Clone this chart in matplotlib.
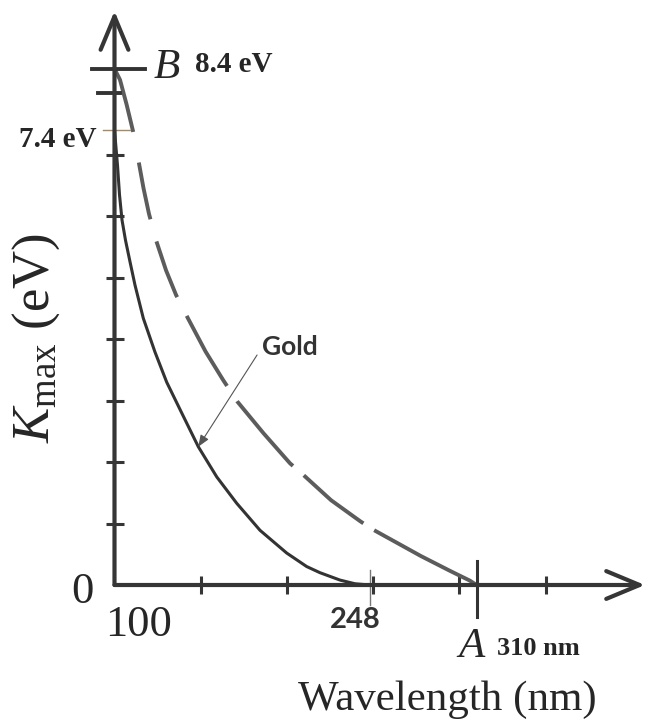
import matplotlib
matplotlib.use("Agg")
import matplotlib.pyplot as plt
from matplotlib.transforms import blended_transform_factory

# values (wavelength in nm, K_max in eV)
wl_gold = [100, 101.74, 102.9, 104.35, 106.38, 108.99, 111.89, 116.71, 123.49, 130.28,
           138.98, 148.61, 159.28, 170.88, 184.4, 199.88, 211.48, 219.2, 230.8, 239.5, 248]
k_gold = [7.4, 6.83, 6.35, 5.94, 5.61, 5.26, 4.88, 4.34, 3.79, 3.3,
          2.8, 2.25, 1.76, 1.33, 0.89, 0.52, 0.3, 0.2, 0.08, 0.02, 0]

wl_other = [100, 103.2, 107, 110.7, 113.3, 116.8, 120, 124.1, 129.9, 135.7, 142.6, 152.8,
            162.9, 171.1, 186.4, 201.8, 208.8, 225.6, 242.4, 249.4, 277.8, 294.6, 306.2, 310]
k_other = [8.4, 8.22, 7.82, 7.39, 7.0, 6.46, 6.04, 5.61, 5.12, 4.72, 4.34, 3.8,
           3.34, 2.99, 2.47, 1.98, 1.81, 1.38, 1.04, 0.91, 0.47, 0.23, 0.07, 0]

x_ticks = [150, 200, 250, 300, 350]
y_ticks = [1, 2, 3, 4, 5, 6, 7]
w_gold, w_other = 248, 310      # threshold wavelengths
k_top_gold, k_top_other = 7.4, 8.4

plt.rcParams['mathtext.fontset'] = 'custom'
plt.rcParams['mathtext.rm'] = 'Liberation Serif'
plt.rcParams['mathtext.it'] = 'Liberation Serif:italic'

W, H = 648, 725
fig = plt.figure(figsize=(W / 100, H / 100), dpi=100)
ax = fig.add_axes([114.5 / W, (H - 585) / H, 530.5 / W, 574 / H])
ax.set_xlim(100, 407.7)
ax.set_ylim(0, 9.34)
for s in ax.spines.values():
    s.set_visible(False)

ink = '#262626'

# curves
ax.plot(wl_gold, k_gold, color='#333333', lw=2.2, solid_capstyle='round',
        solid_joinstyle='round', clip_on=False)
ax.plot(wl_other, k_other, color='#5c5c5c', lw=2.8, clip_on=False, dash_capstyle='butt',
        linestyle=(0, (17, 8, 14.9, 5.9, 15.3, 5.4, 20.8, 4.7, 22, 3.7, 19.7, 3.3, 40, 5)))

# axes with open arrow heads
arr = dict(arrowstyle='->,head_length=0.6,head_width=0.25', lw=3, color='#363636',
           shrinkA=0, shrinkB=0, mutation_scale=40)
ax.annotate('', xy=(1, 0), xytext=(0, 0), xycoords='axes fraction', arrowprops=arr)
ax.annotate('', xy=(0, 1), xytext=(0, 0), xycoords='axes fraction', arrowprops=arr)

ax.set_xticks(x_ticks)
ax.set_yticks(y_ticks)
ax.set_xticklabels([])
ax.set_yticklabels([])
ax.tick_params(direction='inout', length=13, width=2.2, color='#363636')

# extra marks on the axes
ty = blended_transform_factory(ax.transAxes, ax.transData)
tx = blended_transform_factory(ax.transData, ax.transAxes)
ax.plot([-0.042, 0.0575], [k_top_other, k_top_other], transform=ty, color='#333333', lw=2.8, clip_on=False)
ax.plot([-0.031, 0.01], [8, 8], transform=ty, color='#333333', lw=2.8, clip_on=False)
ax.plot([-0.022, 0.029], [k_top_gold, k_top_gold], transform=ty, color='#a88a60', lw=1.0, clip_on=False)
ax.plot([w_gold, w_gold], [0.026, -0.035], transform=tx, color='#777777', lw=1.0, clip_on=False)
ax.plot([w_other, w_other], [0.042, -0.056], transform=tx, color='#333333', lw=2.2, clip_on=False)


def txt(x, y, s, **kw):
    kw.setdefault('color', ink)
    fig.text(x / W, 1 - y / H, s, ha='center', va='baseline', **kw)


serif = 'Liberation Serif'
txt(82.5, 603, '0', family=serif, fontsize=32)
txt(138.5, 636, '100', family=serif, fontsize=32)
txt(355, 628, '248', family='Lato', fontweight='bold', fontsize=21, color='#333333')
txt(471, 657, 'A', family=serif, style='italic', fontsize=31)
txt(538, 655, '310 nm', family=serif, fontweight='bold', fontsize=19)
txt(447.5, 710, 'Wavelength (nm)', family=serif, fontsize=31)
txt(167, 78, 'B', family=serif, style='italic', fontsize=31)
txt(234, 72, '8.4 eV', family=serif, fontweight='bold', fontsize=21)
txt(57.5, 147, '7.4 eV', family=serif, fontweight='bold', fontsize=21)
fig.text(36 / W, 1 - 338 / H, r'$K_{\mathrm{max}}$ (eV)', rotation=90, ha='center', va='center',
         family=serif, fontsize=38, color=ink)

ax.annotate('Gold', xy=(148.6, 2.25), xytext=(185.6, 3.87), family='Lato',
            fontweight='bold', fontsize=19, color='#333333', ha='left', va='center',
            arrowprops=dict(arrowstyle='-|>,head_length=0.5,head_width=0.2', lw=0.8,
                            color='#555555', shrinkA=3, shrinkB=0, relpos=(0, 0.5),
                            mutation_scale=14))

fig.savefig('out.png', dpi=100, facecolor='white')
